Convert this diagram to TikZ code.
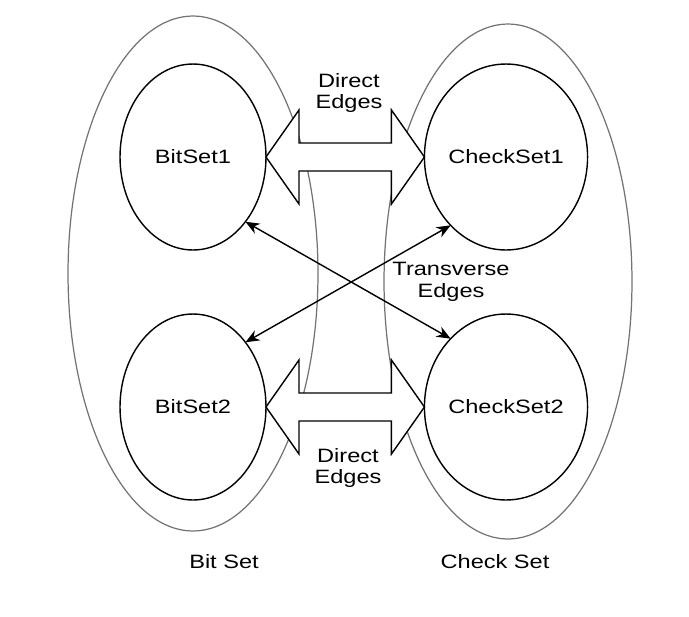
\documentclass[tikz,border=0pt]{standalone}
\usepackage{fontspec}
\setmainfont{Liberation Sans}[FakeStretch=1.22]
\usepackage{tikz}
\usetikzlibrary{arrows.meta,shapes.geometric,calc}

\begin{document}
\begin{tikzpicture}[x=0.02cm, y=-0.02cm,
		font=\fontsize{11}{12.3}\selectfont,
		subset/.style={ellipse, draw, line width=0.8pt, fill=white, inner sep=0pt, outer sep=0pt, minimum width=2.92cm, minimum height=3.72cm},
		bigset/.style={ellipse, draw=black!55, line width=0.7pt, inner sep=0pt, outer sep=0pt, minimum height=10.3cm},
		dirarrow/.style={draw, line width=0.8pt, fill=white, line join=miter},
		transarrow/.style={line width=0.8pt, {Stealth[length=8pt,width=6.5pt]}-{Stealth[length=8pt,width=6.5pt]}}]
								\useasboundingbox (0,0) rectangle (689,616);
								% the two sets
								\node[bigset, minimum width=5cm] (bitset) at (193,273.5) {};
								\node[bigset, minimum width=4.96cm] (checkset) at (508,281.5) {};
								% subsets
								\node[subset] (bs1) at (193,157) {BitSet1};
								\node[subset] (bs2) at (193,407) {BitSet2};
								\node[subset] (cs1) at (506,157) {CheckSet1};
								\node[subset] (cs2) at (506,407) {CheckSet2};
								% direct edges
								\draw[dirarrow] (bs1.east) -- ($(bs1.east)+(33,-47)$) -- ($(bs1.east)+(33,-14)$) -- ($(cs1.west)+(-33,-14)$) -- ($(cs1.west)+(-33,-47)$) -- (cs1.west) -- ($(cs1.west)+(-33,47)$) -- ($(cs1.west)+(-33,14)$) -- ($(bs1.east)+(33,14)$) -- ($(bs1.east)+(33,47)$) -- cycle;
								\draw[dirarrow] (bs2.east) -- ($(bs2.east)+(33,-47)$) -- ($(bs2.east)+(33,-14)$) -- ($(cs2.west)+(-33,-14)$) -- ($(cs2.west)+(-33,-47)$) -- (cs2.west) -- ($(cs2.west)+(-33,47)$) -- ($(cs2.west)+(-33,14)$) -- ($(bs2.east)+(33,14)$) -- ($(bs2.east)+(33,47)$) -- cycle;
								% transverse edges
								\draw[transarrow] (bs1.-51) -- (cs2.129);
								\draw[transarrow] (bs2.51) -- (cs1.-129);
								% labels
								\node[align=center] (dtop) at (349,93) {Direct\\Edges};
								\node[align=center] (dbot) at (348,468) {Direct\\Edges};
								\node[align=center] (trans) at (451,282) {Transverse\\Edges};
								\node (bitlabel) at (224,562) {Bit Set};
								\node (checklabel) at (495,562) {Check Set};
							\end{tikzpicture}
\end{document}
